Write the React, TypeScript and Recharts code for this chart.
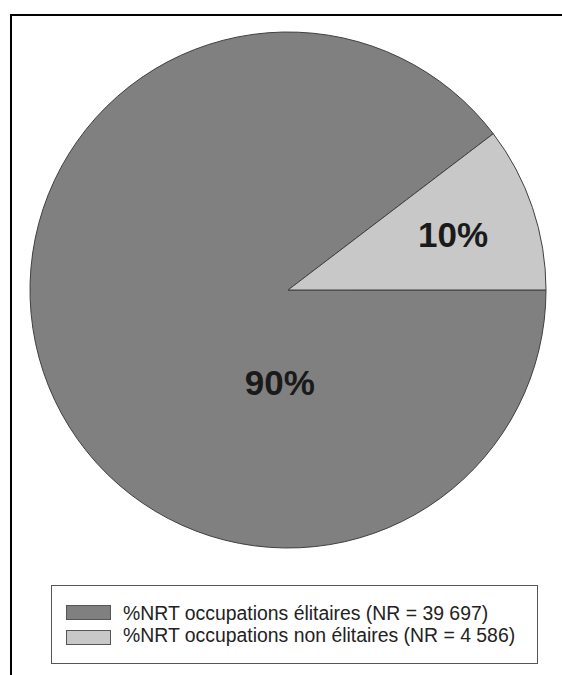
import React from 'react';
import { PieChart, Pie, Cell, Legend, Customized } from 'recharts';

const categories = [
  '%NRT occupations élitaires (NR = 39 697)',
  '%NRT occupations non élitaires (NR = 4 586)',
];
const counts = [39697, 4586];
const colors = ['#808080', '#c8c8c8'];

const data = categories.map((name, i) => ({ name, value: counts[i] }));

const RAD = Math.PI / 180;

const renderLabel = (props: any) => {
  const { cx, cy, outerRadius, midAngle, percent, index } = props;
  let r: number;
  let ang: number;
  if (index === 0) {
    r = outerRadius * 0.36;
    ang = 265;
  } else {
    r = outerRadius * 0.675;
    ang = midAngle;
  }
  const x = cx + r * Math.cos(ang * RAD);
  const y = cy - r * Math.sin(ang * RAD);
  return (
    <text
      x={x}
      y={y}
      textAnchor="middle"
      dominantBaseline="central"
      fill="#1a1a1a"
      fontFamily="'Liberation Sans', Arial, sans-serif"
      fontWeight="bold"
      fontSize={35}
    >
      {`${Math.round(percent * 100)}%`}
    </text>
  );
};

const Frame = () => (
  <g>
    <line x1={10} y1={15} x2={562} y2={15} stroke="#000" strokeWidth={2} />
    <line x1={11} y1={14} x2={11} y2={675} stroke="#000" strokeWidth={2} />
  </g>
);

const rowSwatchTop = [19, 44];
const rowTextTop = [16, 38];

const renderLegend = () => (
  <div
    style={{
      position: 'relative',
      boxSizing: 'border-box',
      width: 487,
      height: 79,
      border: '1px solid #555',
      background: '#fff',
      fontFamily: "'Liberation Sans', Arial, sans-serif",
      fontSize: 19.4,
      color: '#222',
    }}
  >
    {categories.map((c, i) => (
      <React.Fragment key={c}>
        <div
          style={{
            position: 'absolute',
            boxSizing: 'border-box',
            left: 14,
            top: rowSwatchTop[i],
            width: 45,
            height: 15,
            background: colors[i],
            border: '1px solid #555',
          }}
        />
        <div
          style={{
            position: 'absolute',
            left: 71,
            top: rowTextTop[i],
            lineHeight: '22px',
            whiteSpace: 'nowrap',
          }}
        >
          {c}
        </div>
      </React.Fragment>
    ))}
  </div>
);

export default function App() {
  const startAngle = 360 * (counts[1] / (counts[0] + counts[1]));
  return (
    <div style={{ position: 'absolute', left: 0, top: 0, background: '#fff' }}>
      <PieChart width={562} height={675} margin={{ top: 0, right: 0, bottom: 0, left: 0 }}>
        <Customized component={Frame} />
        <Pie
          data={data}
          dataKey="value"
          nameKey="name"
          cx={288}
          cy={290}
          outerRadius={258}
          startAngle={startAngle}
          endAngle={360 + startAngle}
          stroke="#404040"
          strokeWidth={1}
          label={renderLabel}
          labelLine={false}
          isAnimationActive={false}
        >
          {data.map((d, i) => (
            <Cell key={d.name} fill={colors[i]} />
          ))}
        </Pie>
        <Legend
          content={renderLegend}
          wrapperStyle={{ position: 'absolute', left: 51, top: 585, width: 487, height: 79 }}
        />
      </PieChart>
    </div>
  );
}
